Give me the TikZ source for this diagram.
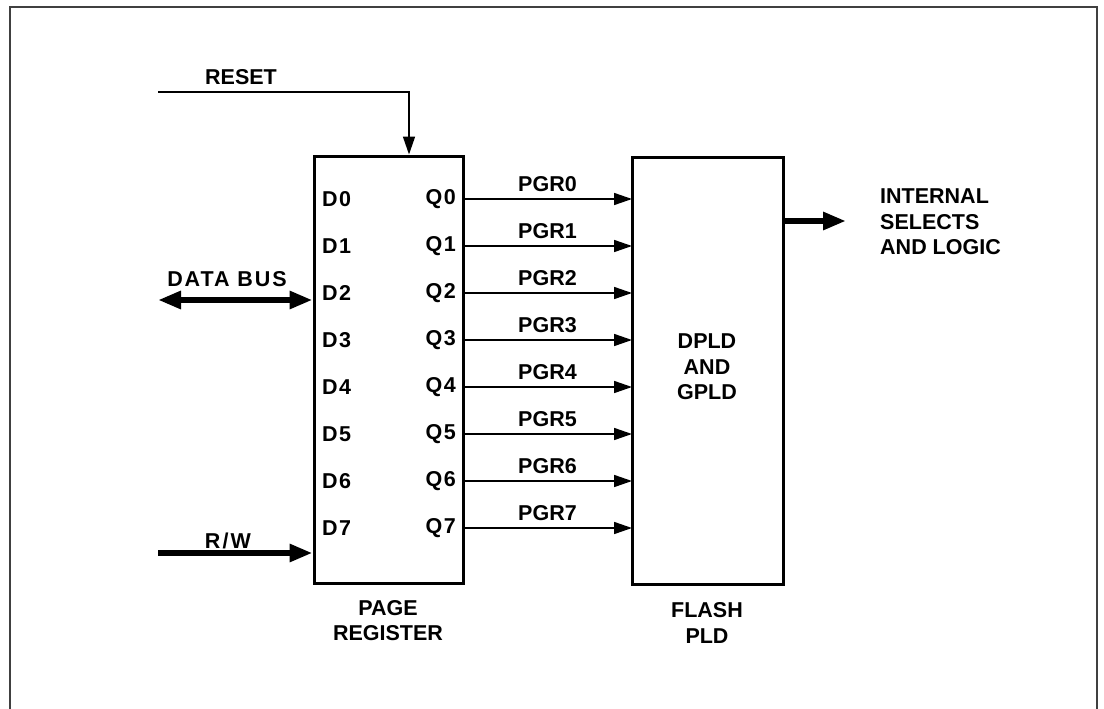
\documentclass[tikz,border=0pt]{standalone}
\usepackage{fontspec}
\setmainfont{Liberation Sans}
\usetikzlibrary{arrows.meta}
\tikzset{
  lbl/.style={font=\fontsize{21.5}{25.5}\selectfont\bfseries, inner sep=0pt, align=center},
  sp/.style={font=\fontsize{21.5}{25.5}\selectfont\bfseries\addfontfeature{LetterSpace=7}, inner sep=0pt},
  blk/.style={draw, line width=3pt, inner sep=0pt},
  thin/.style={line width=1.6pt, -{Triangle[length=18pt,width=12pt]}},
  thick/.style={line width=6pt, -{Triangle[length=23pt,width=17pt]}},
  thickboth/.style={line width=6pt, {Triangle[length=23pt,width=17pt]}-{Triangle[length=23pt,width=17pt]}},
}
\begin{document}
\begin{tikzpicture}[x=1pt,y=-1pt]
\useasboundingbox (0,0) rectangle (1104,709);
% frame
\draw[line width=1.5pt, black!75] (10,712) -- (10,7) -- (1097,7) -- (1097,712);
% blocks
\node[blk, minimum width=149pt, minimum height=427pt] (pr) at (388.5,369.5) {};
\node[blk, minimum width=151pt, minimum height=427pt] (fl) at (707.5,370.5) {};
\node[lbl] (prl) at (388,620.5) {PAGE\\REGISTER};
\node[lbl] (fll) at (707,623) {FLASH\\PLD};
\node[lbl] (dpl) at (707,367) {DPLD\\AND\\GPLD};
% D / Q rows
\foreach \i in {0,...,7}{
  \pgfmathsetmacro{\yy}{199+47*\i}
  \node[sp, anchor=west] (d\i) at (322,\yy) {D\i};
  \node[sp, anchor=east] (q\i) at (456,\yy) {Q\i};
  \coordinate (qs\i) at (463,\yy);
  \coordinate (qe\i) at (632,\yy);
  \draw[thin] (qs\i) -- (qe\i) node[lbl, midway, above=6pt] (pg\i) {PGR\i};
}
% RESET
\coordinate (rs) at (158,92);
\node[lbl] (rsl) at (241,77) {RESET};
\draw[thin] (rs) -| ([xshift=20.5pt]pr.north);
% DATA BUS
\coordinate (db) at (158,300);
\node[sp, font=\fontsize{21.5}{25.5}\selectfont\bfseries\addfontfeature{LetterSpace=9}] (dbl) at (227,279) {DATA BUS};
\draw[thickboth] (db) -- (pr.west |- db);
% R/W
\coordinate (rw) at (158,553);
\node[sp, font=\fontsize{21.5}{25.5}\selectfont\bfseries\addfontfeature{LetterSpace=10}] (rwl) at (228,541) {R/W};
\draw[thick] (rw) -- (pr.west |- rw);
% output
\coordinate (oe) at (846,221);
\draw[thick] (fl.east |- oe) -- (oe);
\node[lbl, anchor=west, align=left] (out) at (880,222) {INTERNAL\\SELECTS\\AND LOGIC};
\end{tikzpicture}
\end{document}
